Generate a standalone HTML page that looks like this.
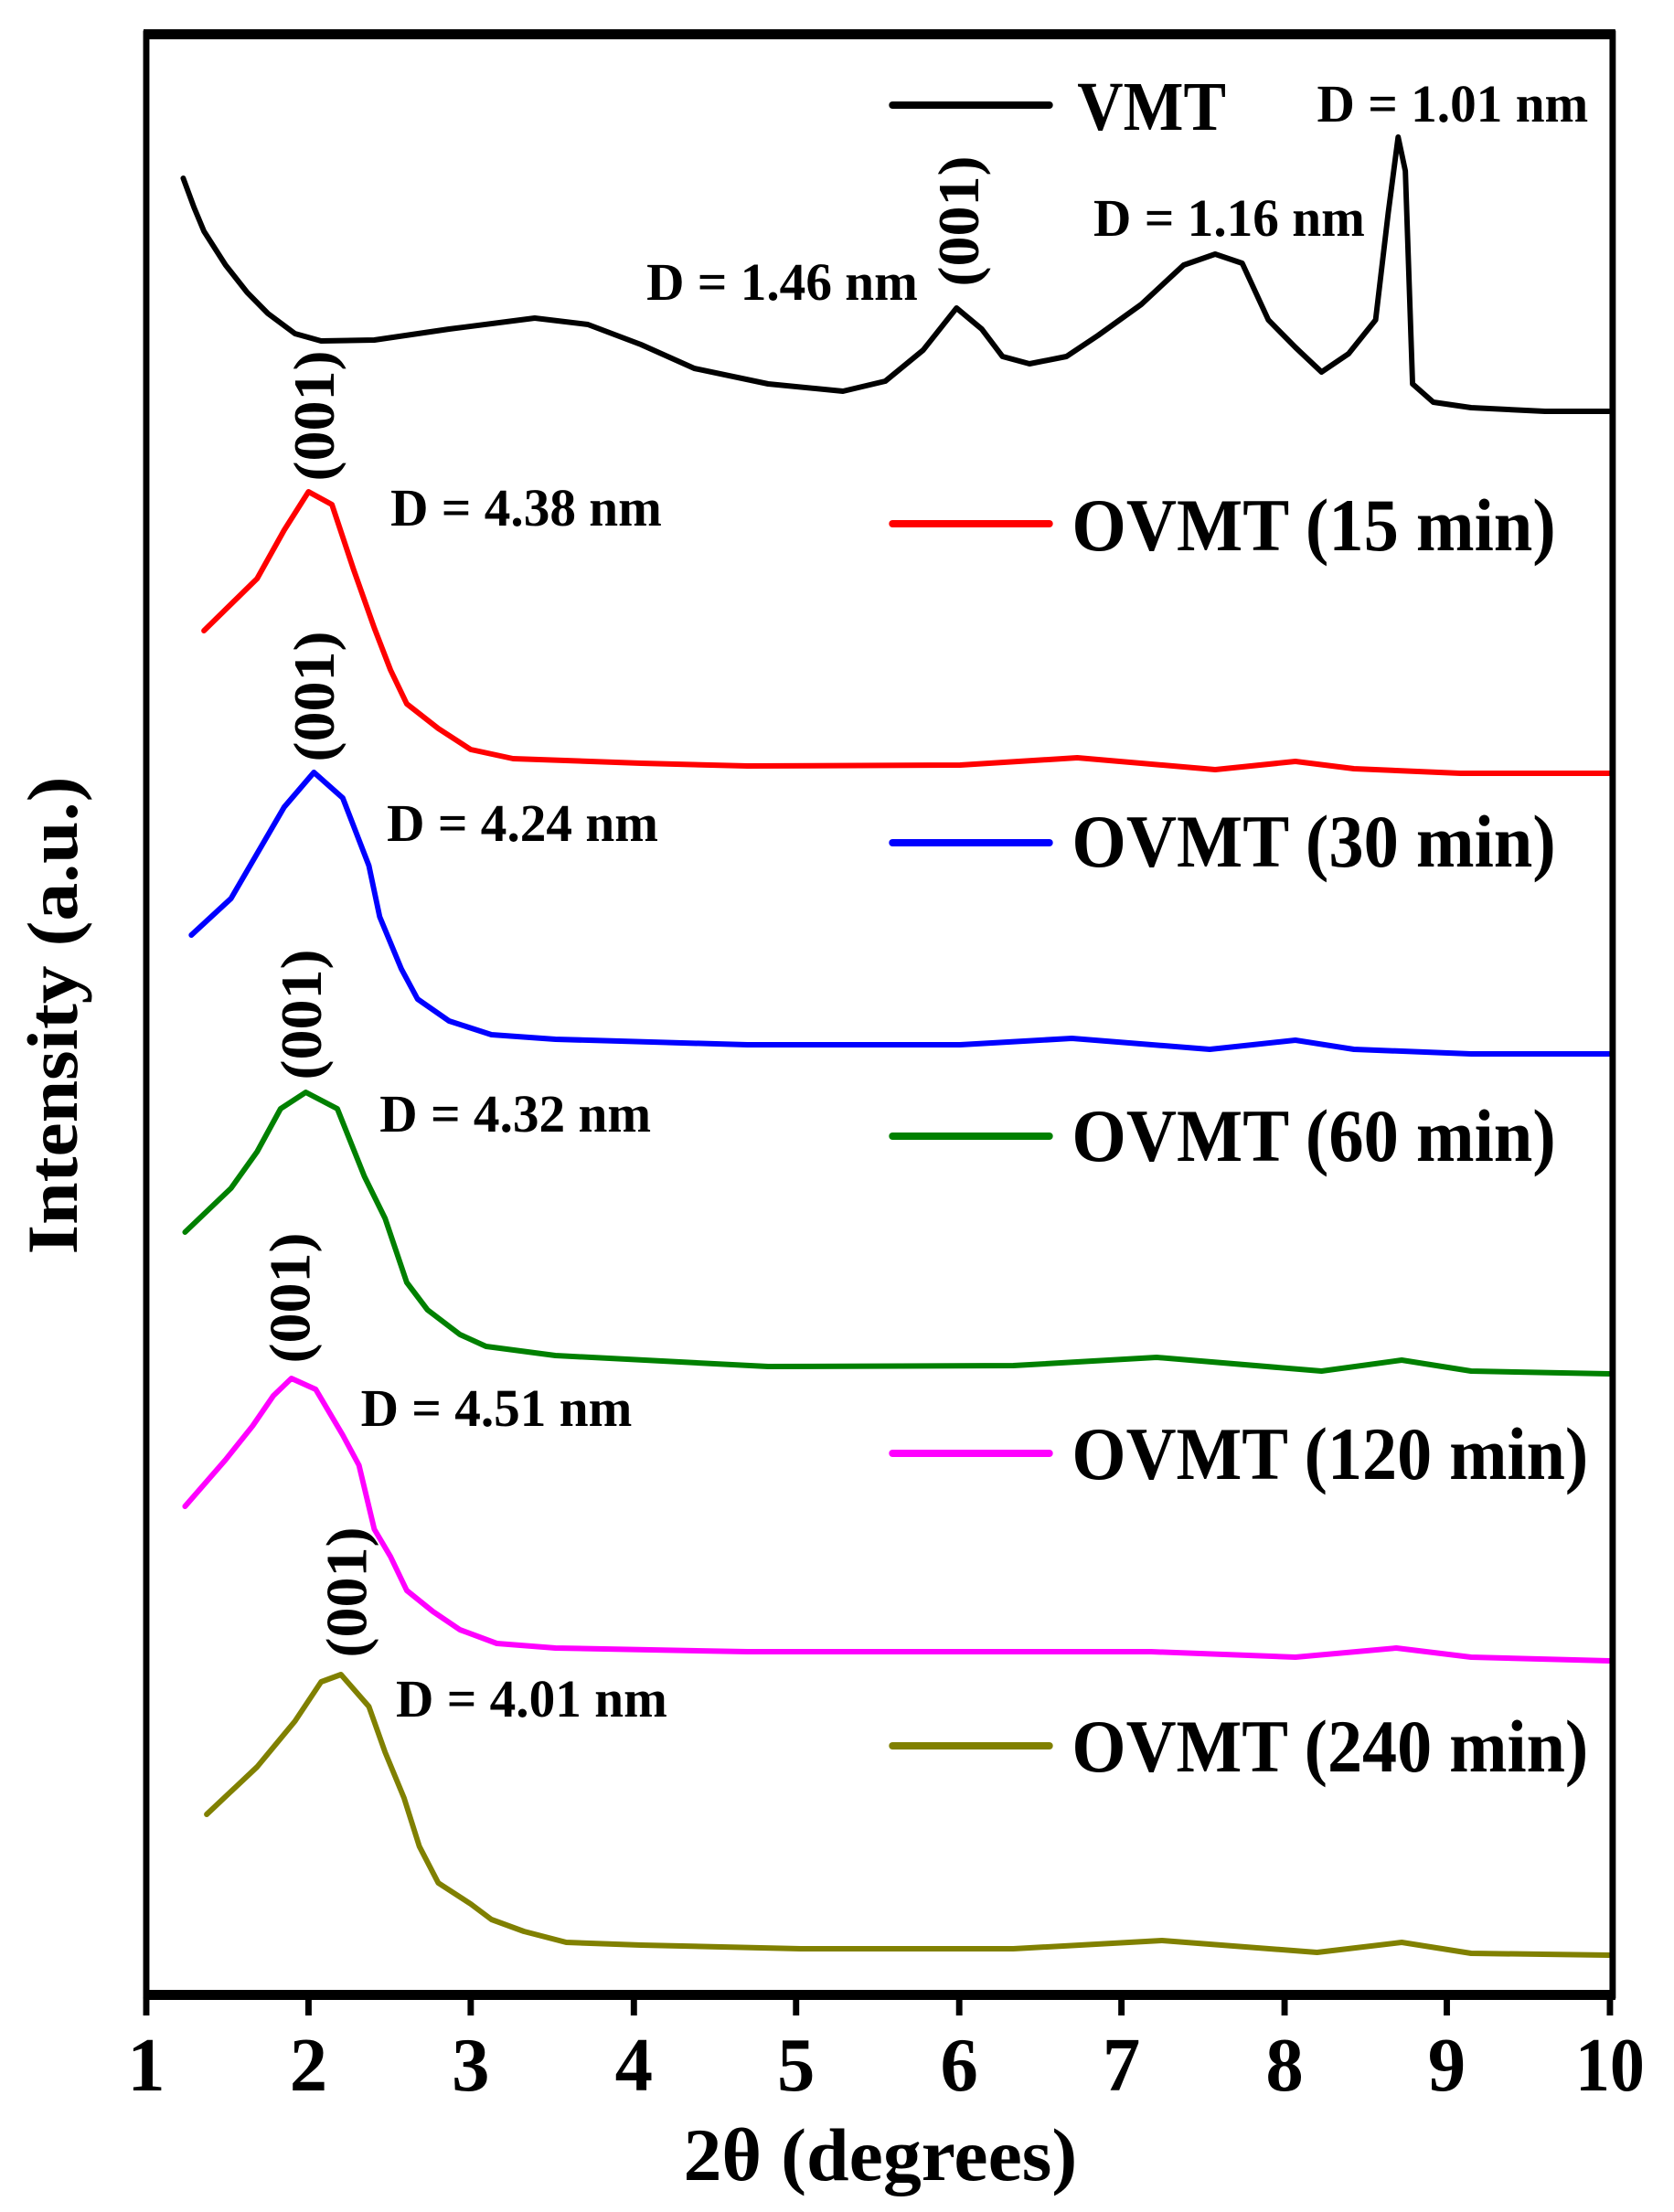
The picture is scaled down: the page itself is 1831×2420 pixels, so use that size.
<!DOCTYPE html>
<html><head><meta charset="utf-8"><style>
html,body{margin:0;padding:0;background:#fff;}
svg{display:block;}
text{font-family:"Liberation Serif",serif;font-weight:bold;fill:#000;}
</style></head><body>
<svg width="1831" height="2420" viewBox="0 0 1831 2420" xmlns="http://www.w3.org/2000/svg">
<g transform="matrix(0.9858 0 0 1 2.26 0)">
<g fill="none" stroke-width="6" stroke-linejoin="round" stroke-linecap="round">
<polyline stroke="#000" points="201,195 213,227 224,253 248,290 272,320 295,343 325,365 354,373 413,372 496,360 591,348 650,355 709,377 768,403 850,420 933,428 980,417 1022,383 1059,337 1087,360 1110,390 1140,398 1181,390 1216,367 1264,333 1311,290 1346,278 1376,288 1405,350 1435,380 1464,407 1494,387 1524,350 1538,233 1549,150 1557,187 1565,420 1588,440 1630,446 1712,450 1783,450"/>
<polyline stroke="#ff0000" points="224,690 283,633 313,580 340,538 366,552 390,623 413,687 431,733 449,770 484,797 520,820 567,830 709,835 827,838 1063,837 1193,829 1346,842 1435,833 1500,841 1618,846 1783,846"/>
<polyline stroke="#0000ff" points="210,1023 254,983 313,883 346,845 378,873 407,947 419,1003 443,1060 461,1093 496,1117 543,1132 614,1137 827,1143 1063,1143 1187,1136 1340,1148 1435,1138 1500,1148 1630,1153 1783,1153"/>
<polyline stroke="#008000" points="203,1348 254,1300 283,1260 309,1213 337,1195 372,1213 402,1287 425,1333 449,1403 472,1433 508,1460 537,1473 614,1483 850,1495 1122,1494 1281,1485 1464,1500 1553,1488 1630,1500 1783,1503"/>
<polyline stroke="#ff00ff" points="203,1648 248,1597 278,1560 301,1527 321,1508 348,1520 378,1570 396,1603 413,1673 431,1703 449,1740 478,1763 508,1783 549,1798 614,1803 827,1807 1275,1807 1435,1813 1547,1803 1630,1813 1783,1817"/>
<polyline stroke="#808000" points="227,1985 283,1933 325,1883 354,1840 376,1832 407,1867 425,1917 446,1967 463,2020 484,2060 520,2083 543,2100 579,2113 626,2125 709,2128 886,2132 1122,2132 1287,2123 1459,2136 1553,2125 1630,2137 1783,2139"/>
</g>
<g stroke-width="8" stroke-linecap="round">
<line x1="988" y1="115" x2="1162" y2="115" stroke="#000"/>
<line x1="988" y1="573" x2="1162" y2="573" stroke="#ff0000"/>
<line x1="988" y1="922" x2="1162" y2="922" stroke="#0000ff"/>
<line x1="988" y1="1243" x2="1162" y2="1243" stroke="#008000"/>
<line x1="988" y1="1590" x2="1162" y2="1590" stroke="#ff00ff"/>
<line x1="988" y1="1910" x2="1162" y2="1910" stroke="#808000"/>
</g>
<rect x="160" y="37" width="1627" height="2146" fill="none" stroke="#000" stroke-width="7"/>
<rect x="157" y="32" width="1633" height="11" fill="#000"/>
<rect x="157" y="2177" width="1633" height="11" fill="#000"/>
<g stroke="#000" stroke-width="7">
<line x1="160" y1="2185" x2="160" y2="2205"/><line x1="340" y1="2185" x2="340" y2="2205"/><line x1="520" y1="2185" x2="520" y2="2205"/><line x1="701" y1="2185" x2="701" y2="2205"/><line x1="881" y1="2185" x2="881" y2="2205"/><line x1="1062" y1="2185" x2="1062" y2="2205"/><line x1="1242" y1="2185" x2="1242" y2="2205"/><line x1="1423" y1="2185" x2="1423" y2="2205"/><line x1="1603" y1="2185" x2="1603" y2="2205"/><line x1="1784" y1="2185" x2="1784" y2="2205"/>
</g>
<g font-size="84" text-anchor="middle">
<text x="160" y="2287">1</text><text x="340" y="2287">2</text><text x="520" y="2287">3</text><text x="701" y="2287">4</text><text x="881" y="2287">5</text><text x="1062" y="2287">6</text><text x="1242" y="2287">7</text><text x="1423" y="2287">8</text><text x="1603" y="2287">9</text><text x="1784" y="2287" textLength="77" lengthAdjust="spacingAndGlyphs">10</text>
</g>
<text x="756" y="2385" font-size="82" textLength="437" lengthAdjust="spacingAndGlyphs">2θ (degrees)</text>
<text transform="translate(83,1111) rotate(-90)" text-anchor="middle" font-size="80" textLength="523" lengthAdjust="spacingAndGlyphs">Intensity (a.u.)</text>
<text x="1193" y="142" font-size="76" textLength="165" lengthAdjust="spacingAndGlyphs">VMT</text>
<text x="1187" y="602" font-size="82" textLength="537" lengthAdjust="spacingAndGlyphs">OVMT (15 min)</text>
<text x="1187" y="948" font-size="82" textLength="537" lengthAdjust="spacingAndGlyphs">OVMT (30 min)</text>
<text x="1187" y="1270" font-size="82" textLength="537" lengthAdjust="spacingAndGlyphs">OVMT (60 min)</text>
<text x="1187" y="1618" font-size="82" textLength="573" lengthAdjust="spacingAndGlyphs">OVMT (120 min)</text>
<text x="1187" y="1938" font-size="82" textLength="573" lengthAdjust="spacingAndGlyphs">OVMT (240 min)</text>
<g font-size="58">
<text x="1459" y="133" textLength="301" lengthAdjust="spacingAndGlyphs">D = 1.01 nm</text>
<text x="1211" y="258" textLength="301" lengthAdjust="spacingAndGlyphs">D = 1.16 nm</text>
<text x="715" y="328" textLength="301" lengthAdjust="spacingAndGlyphs">D = 1.46 nm</text>
<text x="431" y="575" textLength="301" lengthAdjust="spacingAndGlyphs">D = 4.38 nm</text>
<text x="427" y="920" textLength="301" lengthAdjust="spacingAndGlyphs">D = 4.24 nm</text>
<text x="419" y="1238" textLength="301" lengthAdjust="spacingAndGlyphs">D = 4.32 nm</text>
<text x="398" y="1560" textLength="301" lengthAdjust="spacingAndGlyphs">D = 4.51 nm</text>
<text x="437" y="1878" textLength="301" lengthAdjust="spacingAndGlyphs">D = 4.01 nm</text>
</g>
<g font-size="64" text-anchor="middle">
<text transform="translate(1083,242) rotate(-90)" textLength="143" lengthAdjust="spacingAndGlyphs">(001)</text>
<text transform="translate(368,455) rotate(-90)" textLength="143" lengthAdjust="spacingAndGlyphs">(001)</text>
<text transform="translate(368,762) rotate(-90)" textLength="143" lengthAdjust="spacingAndGlyphs">(001)</text>
<text transform="translate(354,1110) rotate(-90)" textLength="143" lengthAdjust="spacingAndGlyphs">(001)</text>
<text transform="translate(341,1420) rotate(-90)" textLength="143" lengthAdjust="spacingAndGlyphs">(001)</text>
<text transform="translate(404,1742) rotate(-90)" textLength="143" lengthAdjust="spacingAndGlyphs">(001)</text>
</g>
</g>
</svg>
</body></html>
